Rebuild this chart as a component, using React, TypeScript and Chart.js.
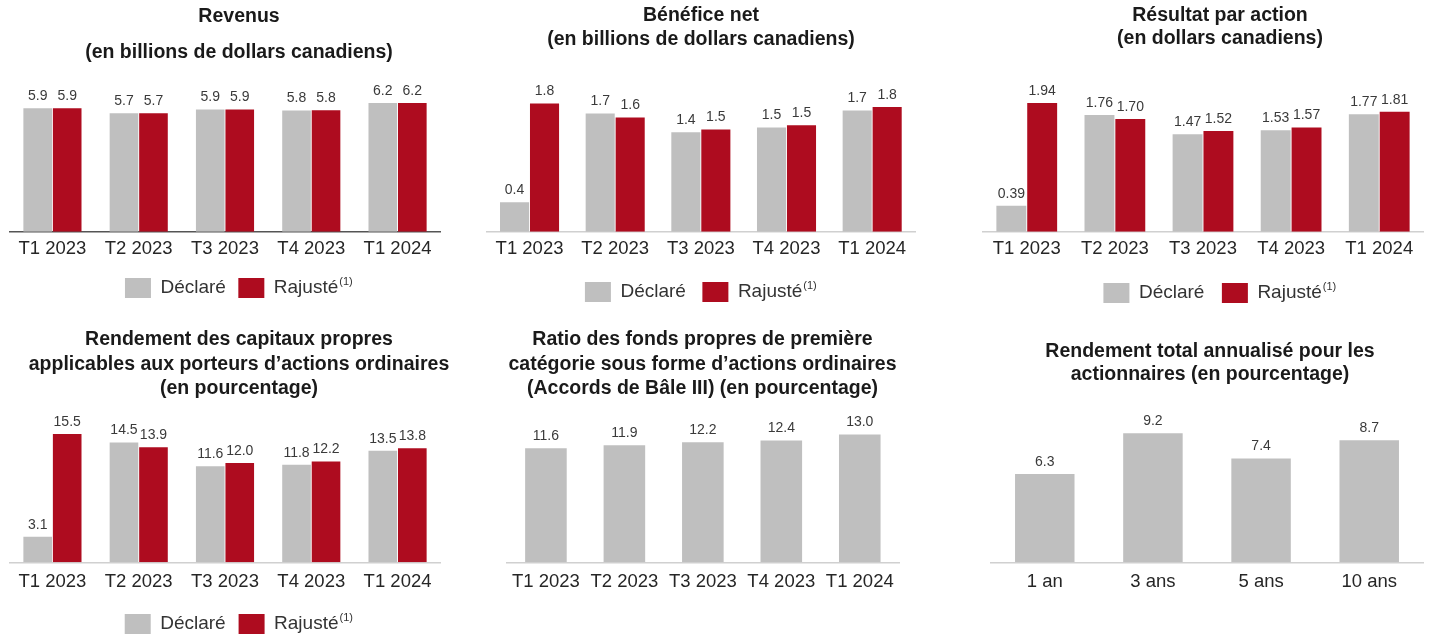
import React, { useEffect, useRef } from 'react';
import { Chart, registerables } from 'chart.js';

Chart.register(...registerables);

// ---- Data ----
const quarters = ['T1 2023', 'T2 2023', 'T3 2023', 'T4 2023', 'T1 2024'];
const horizons = ['1 an', '3 ans', '5 ans', '10 ans'];
const seriesNames = ['Déclaré', 'Rajusté'];
const footnoteMark = '(1)';

const revenusDeclare = [5.93, 5.69, 5.87, 5.83, 6.19];
const revenusRajuste = [5.93, 5.69, 5.87, 5.84, 6.19];

const beneficeDeclare = [0.42, 1.69, 1.42, 1.49, 1.73];
const beneficeRajuste = [1.83, 1.63, 1.46, 1.52, 1.78];

const bpaDeclare = [0.39, 1.76, 1.47, 1.53, 1.77];
const bpaRajuste = [1.94, 1.7, 1.52, 1.57, 1.81];

const rcpDeclare = [3.1, 14.5, 11.6, 11.8, 13.5];
const rcpRajuste = [15.5, 13.9, 12.0, 12.2, 13.8];

const cet1Ratio = [11.6, 11.9, 12.2, 12.4, 13.0];

const rendementTotal = [6.3, 9.2, 7.4, 8.7];

const titles = {
  revenus: ['Revenus', '(en billions de dollars canadiens)'],
  benefice: ['Bénéfice net', '(en billions de dollars canadiens)'],
  bpa: ['Résultat par action', '(en dollars canadiens)'],
  rcp: ['Rendement des capitaux propres', 'applicables aux porteurs d’actions ordinaires', '(en pourcentage)'],
  cet1: ['Ratio des fonds propres de première', 'catégorie sous forme d’actions ordinaires', '(Accords de Bâle III) (en pourcentage)'],
  rta: ['Rendement total annualisé pour les', 'actionnaires (en pourcentage)'],
};

// ---- Styles ----
const GRAY = '#BFBFBF';
const RED = '#AE0C1F';
const FAMILY = '"Liberation Sans", Arial, Helvetica, sans-serif';
const LEGEND_SIZE = 19;
const LEGEND_BOX_W = 26;
const LEGEND_BOX_H = 20;
const SUP_SPACER = '\u2002 ';

const valueLabels = {
  id: 'valueLabels',
  afterDatasetsDraw(chart: any, _args: any, opts: any) {
    const ctx = chart.ctx;
    ctx.save();
    ctx.font = `${opts.size}px ${FAMILY}`;
    ctx.fillStyle = opts.color;
    ctx.textAlign = 'center';
    ctx.textBaseline = 'middle';
    chart.data.datasets.forEach((ds: any, i: number) => {
      const meta = chart.getDatasetMeta(i);
      meta.data.forEach((bar: any, j: number) => {
        const v = ds.data[j];
        ctx.fillText(Number(v).toFixed(opts.decimals), bar.x, bar.y - opts.offset);
      });
    });
    ctx.restore();
  },
};

// draws the footnote marker as a superscript after the second legend label
const legendFootnote = {
  id: 'legendFootnote',
  afterDraw(chart: any) {
    const legend = chart.legend;
    if (!legend || !legend.options.display || !legend.legendHitBoxes || legend.legendHitBoxes.length < 2) return;
    const hb = legend.legendHitBoxes[1];
    const ctx = chart.ctx;
    ctx.save();
    ctx.font = `${LEGEND_SIZE}px ${FAMILY}`;
    const tw = ctx.measureText(seriesNames[1]).width;
    const x = hb.left + LEGEND_BOX_W + LEGEND_SIZE / 2 + tw + 1;
    const y = hb.top + LEGEND_BOX_H / 2 - 6;
    ctx.font = `11px ${FAMILY}`;
    ctx.fillStyle = '#333333';
    ctx.textAlign = 'left';
    ctx.textBaseline = 'middle';
    ctx.fillText(footnoteMark, x, y);
    ctx.restore();
  },
};

type Spec = {
  left: number; top: number; width: number; height: number;
  axisL: number; axisR: number; padBottom: number;
  title: string[]; titleLH: number; titlePadTop: number; titlePadBottom: number;
  labels: string[]; datasets: { label: string; data: number[]; color: string }[];
  ymax: number; tickPad: number; legendPad: number | null; catPct: number;
  decimals: number; axisColor: string;
};

const pairSets = (a: number[], b: number[]) => [
  { label: seriesNames[0], data: a, color: GRAY },
  { label: seriesNames[1] + SUP_SPACER, data: b, color: RED },
];

const specs: Spec[] = [
  {
    left: 0, top: -1, width: 478, height: 309, axisL: 9.3, axisR: 37.3, padBottom: 0.1,
    title: titles.revenus, titleLH: 1.83, titlePadTop: 0, titlePadBottom: 19.89,
    labels: quarters, datasets: pairSets(revenusDeclare, revenusRajuste),
    ymax: 6.8, tickPad: 5.8, legendPad: 12.4, catPct: 0.684, decimals: 1, axisColor: '#555555',
  },
  {
    left: 480, top: 0, width: 442, height: 312, axisL: 6.7, axisR: 7, padBottom: 0,
    title: titles.benefice, titleLH: 1.2, titlePadTop: 4.3, titlePadBottom: 44.1,
    labels: quarters, datasets: pairSets(beneficeDeclare, beneficeRajuste),
    ymax: 1.95, tickPad: 5.8, legendPad: 16.5, catPct: 0.7, decimals: 1, axisColor: '#D0D0D0',
  },
  {
    left: 975, top: 0, width: 490, height: 313, axisL: 7.7, axisR: 41.7, padBottom: 0,
    title: titles.bpa, titleLH: 1.2, titlePadTop: 3.8, titlePadBottom: 41.87,
    labels: quarters, datasets: pairSets(bpaDeclare, bpaRajuste),
    ymax: 2.1, tickPad: 5.8, legendPad: 17.5, catPct: 0.7, decimals: 2, axisColor: '#D0D0D0',
  },
  {
    left: 0, top: 320, width: 478, height: 324, axisL: 9.3, axisR: 37.3, padBottom: 0,
    title: titles.rcp, titleLH: 1.24, titlePadTop: 7.91, titlePadBottom: 21.26,
    labels: quarters, datasets: pairSets(rcpDeclare, rcpRajuste),
    ymax: 17, tickPad: 8.3, legendPad: 12.9, catPct: 0.684, decimals: 1, axisColor: '#D0D0D0',
  },
  {
    left: 480, top: 320, width: 445, height: 282, axisL: 26.7, axisR: 26, padBottom: 0.9,
    title: titles.cet1, titleLH: 1.24, titlePadTop: 7.91, titlePadBottom: 19.31,
    labels: quarters, datasets: [{ label: seriesNames[0], data: cet1Ratio, color: GRAY }],
    ymax: 14.5, tickPad: 8.3, legendPad: null, catPct: 0.53, decimals: 1, axisColor: '#D0D0D0',
  },
  {
    left: 975, top: 320, width: 470, height: 282, axisL: 15.7, axisR: 21.7, padBottom: 0.9,
    title: titles.rta, titleLH: 1.2, titlePadTop: 20, titlePadBottom: 28.2,
    labels: horizons, datasets: [{ label: seriesNames[0], data: rendementTotal, color: GRAY }],
    ymax: 10.5, tickPad: 8.3, legendPad: null, catPct: 0.55, decimals: 1, axisColor: '#D0D0D0',
  },
];

const hiddenAxis = (position: 'left' | 'right', w: number, ymax: number) => ({
  display: true,
  position,
  min: 0,
  max: ymax,
  grid: { display: false, drawTicks: false },
  border: { display: false },
  ticks: { display: false },
  afterFit: (scale: any) => {
    scale.width = w;
  },
});

function BarPanel({ spec }: { spec: Spec }) {
  const ref = useRef<HTMLCanvasElement | null>(null);
  useEffect(() => {
    if (!ref.current) return;
    const chart = new Chart(ref.current, {
      type: 'bar',
      data: {
        labels: spec.labels,
        datasets: spec.datasets.map((d) => ({
          label: d.label,
          data: d.data,
          backgroundColor: d.color,
          borderWidth: 0,
          yAxisID: 'y',
          categoryPercentage: spec.catPct,
          barPercentage: spec.datasets.length > 1 ? 0.97 : 1,
        })),
      },
      options: {
        responsive: false,
        animation: false,
        events: [],
        layout: { padding: { left: 0, right: 0, top: 0, bottom: spec.padBottom }, autoPadding: false },
        scales: {
          x: {
            grid: { display: false, drawTicks: false, tickLength: 0 },
            border: { display: true, color: spec.axisColor, width: 1.5 },
            ticks: {
              padding: spec.tickPad,
              color: '#262626',
              font: { family: FAMILY, size: 18.5, lineHeight: 1.2 },
              maxRotation: 0,
              autoSkip: false,
            },
          },
          y: hiddenAxis('left', spec.axisL, spec.ymax),
          yRight: hiddenAxis('right', spec.axisR, spec.ymax),
        } as any,
        plugins: {
          title: {
            display: true,
            text: spec.title,
            color: '#1A1A1A',
            font: { family: FAMILY, size: 19.5, weight: 'bold', lineHeight: spec.titleLH },
            padding: { top: spec.titlePadTop, bottom: spec.titlePadBottom },
          },
          legend: {
            display: spec.legendPad !== null,
            position: 'bottom',
            labels: {
              boxWidth: LEGEND_BOX_W,
              boxHeight: LEGEND_BOX_H,
              padding: spec.legendPad ?? 10,
              color: '#333333',
              font: { family: FAMILY, size: LEGEND_SIZE },
            },
          },
          tooltip: { enabled: false },
          valueLabels: { decimals: spec.decimals, size: 14, color: '#3A3A3A', offset: 12 },
        } as any,
      },
      plugins: [valueLabels as any, legendFootnote as any],
    });
    return () => chart.destroy();
  }, [spec]);
  return (
    <canvas
      ref={ref}
      width={spec.width}
      height={spec.height}
      style={{ position: 'absolute', left: spec.left, top: spec.top, width: spec.width, height: spec.height }}
    />
  );
}

export default function App() {
  return (
    <div
      style={{
        position: 'absolute', left: 0, top: 0, width: 1430, height: 637,
        overflow: 'hidden', background: '#FFFFFF',
      }}
    >
      {specs.map((s, i) => (
        <BarPanel key={i} spec={s} />
      ))}
    </div>
  );
}
